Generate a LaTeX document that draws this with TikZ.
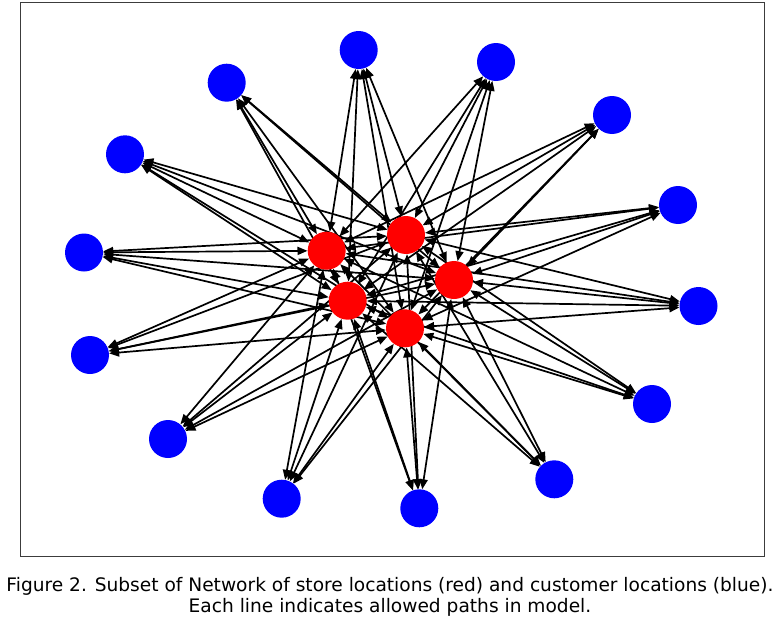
\documentclass[tikz,border=0pt]{standalone}
\usepackage{fontspec}
\setmainfont{DejaVu Sans}
\usetikzlibrary{arrows.meta}
\pgfdeclarelayer{bg}
\pgfsetlayers{bg,main}
\definecolor{storered}{RGB}{255,0,0}
\definecolor{custblue}{RGB}{0,0,255}
\definecolor{framegray}{RGB}{60,60,60}
\begin{document}
\begin{tikzpicture}[x=1pt,y=-1pt,
  store/.style={circle,fill=storered,draw=none,minimum size=38pt,inner sep=0pt},
  cust/.style={circle,fill=custblue,draw=none,minimum size=38pt,inner sep=0pt},
  conn/.style={line width=1.7pt,black,{Triangle[length=10pt,width=8pt]}-{Triangle[length=10pt,width=8pt]}},
  framebox/.style={draw=framegray,line width=1.2pt},
  caption/.style={anchor=base,font=\fontsize{18.6}{21}\selectfont,inner sep=0pt}]
\useasboundingbox (0,0) rectangle (777,621);
\draw[framebox] (20.5,2.5) rectangle (764.5,556.5);
% customers
\node[cust] (b1) at (358.7,50) {};
\node[cust] (b2) at (496,62) {};
\node[cust] (b3) at (612,115) {};
\node[cust] (b4) at (678,205) {};
\node[cust] (b5) at (698.5,306) {};
\node[cust] (b6) at (652,404) {};
\node[cust] (b7) at (554.3,479.3) {};
\node[cust] (b8) at (419.3,508.3) {};
\node[cust] (b9) at (281.7,498.7) {};
\node[cust] (b10) at (168,439) {};
\node[cust] (b11) at (90,355) {};
\node[cust] (b12) at (84,252.5) {};
\node[cust] (b13) at (125,154.3) {};
\node[cust] (b14) at (226.7,82.7) {};
% stores
\node[store] (r1) at (326.7,250.7) {};
\node[store] (r2) at (406,235) {};
\node[store] (r3) at (454,280) {};
\node[store] (r4) at (347.7,300.7) {};
\node[store] (r5) at (405,328.3) {};
\begin{pgfonlayer}{bg}
\foreach \r in {r1,r2,r3,r4,r5}{
  \foreach \i in {1,...,14}{
    \draw[conn] (\r) -- (b\i);
  }
}
\end{pgfonlayer}
\node[caption] (cap1) at (390,591.5) {Figure 2. Subset of Network of store locations (red) and customer locations (blue).};
\node[caption] (cap2) at (390,612.5) {Each line indicates allowed paths in model.};
\end{tikzpicture}
\end{document}
